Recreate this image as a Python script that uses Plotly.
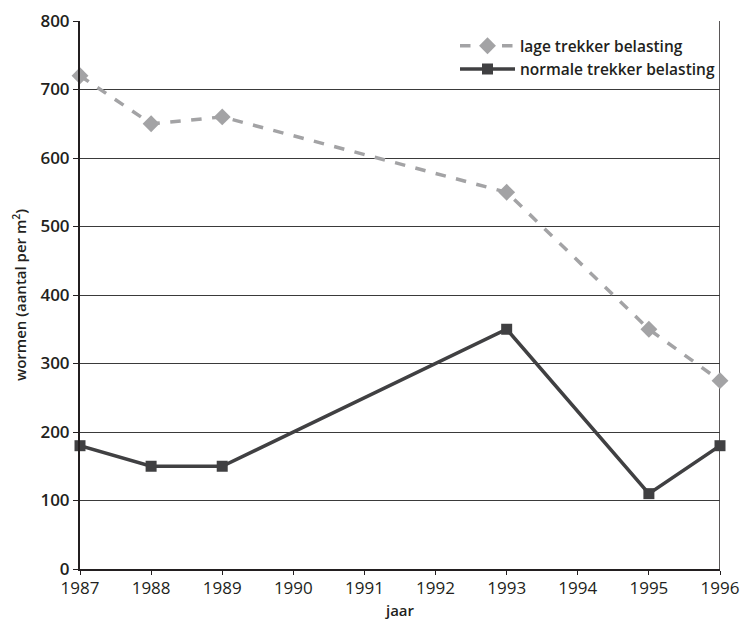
import plotly.graph_objects as go

years = [1987, 1988, 1989, 1993, 1995, 1996]
lage = [720, 650, 660, 550, 350, 275]
normale = [180, 150, 150, 350, 110, 180]
x_ticks = list(range(1987, 1997))
y_ticks = list(range(0, 801, 100))

fig = go.Figure()
fig.add_trace(go.Scatter(
    x=years, y=lage, mode="lines+markers", name="lage trekker belasting",
    line=dict(color="#A3A3A5", width=3.5, dash="dash"),
    marker=dict(symbol="diamond", size=13, color="#A3A3A5"),
    cliponaxis=False,
))
fig.add_trace(go.Scatter(
    x=years, y=normale, mode="lines+markers", name="normale trekker belasting",
    line=dict(color="#404042", width=3.5),
    marker=dict(symbol="square", size=11, color="#404042"),
    cliponaxis=False,
))

font_family = "Open Sans, Noto Sans, sans-serif"

fig.update_layout(
    width=740, height=620,
    margin=dict(l=80, r=20, t=21, b=51, autoexpand=False),
    paper_bgcolor="white", plot_bgcolor="white",
    font=dict(family=font_family, color="#231F20"),
    showlegend=True,
    legend=dict(
        x=1.0, y=0.985, xanchor="right", yanchor="top",
        bgcolor="rgba(255,255,255,0)", borderwidth=0,
        font=dict(size=15.5, weight=600, color="#231F20"),
        itemwidth=55, tracegroupgap=0,
    ),
    xaxis=dict(
        range=[1987, 1996], tickvals=x_ticks, ticktext=[str(v) for v in x_ticks],
        showgrid=False, zeroline=False,
        showline=True, linecolor="#231F20", linewidth=2, mirror=False,
        ticks="outside", ticklen=4, tickwidth=1, tickcolor="#231F20",
        ticklabelstandoff=-1,
        tickfont=dict(size=17, color="#231F20"),
        title=dict(text="jaar", font=dict(size=15, weight=600), standoff=12),
    ),
    yaxis=dict(
        range=[0, 800], tickvals=y_ticks,
        showgrid=True, gridcolor="#3A3A3A", gridwidth=1,
        zeroline=False,
        showline=True, linecolor="#231F20", linewidth=2,
        ticks="outside", ticklen=5, tickwidth=1, tickcolor="#231F20",
        tickfont=dict(size=17, weight=600, color="#231F20"),
        title=dict(text="wormen (aantal per m<sup>2</sup>)", font=dict(size=15, weight=600), standoff=10),
    ),
)

# right-hand frame line of the plotting area
fig.add_shape(type="line", xref="x", yref="paper", x0=1996, x1=1996, y0=0, y1=1,
              line=dict(color="#231F20", width=1.5), layer="below")

fig.write_html("out.html")
